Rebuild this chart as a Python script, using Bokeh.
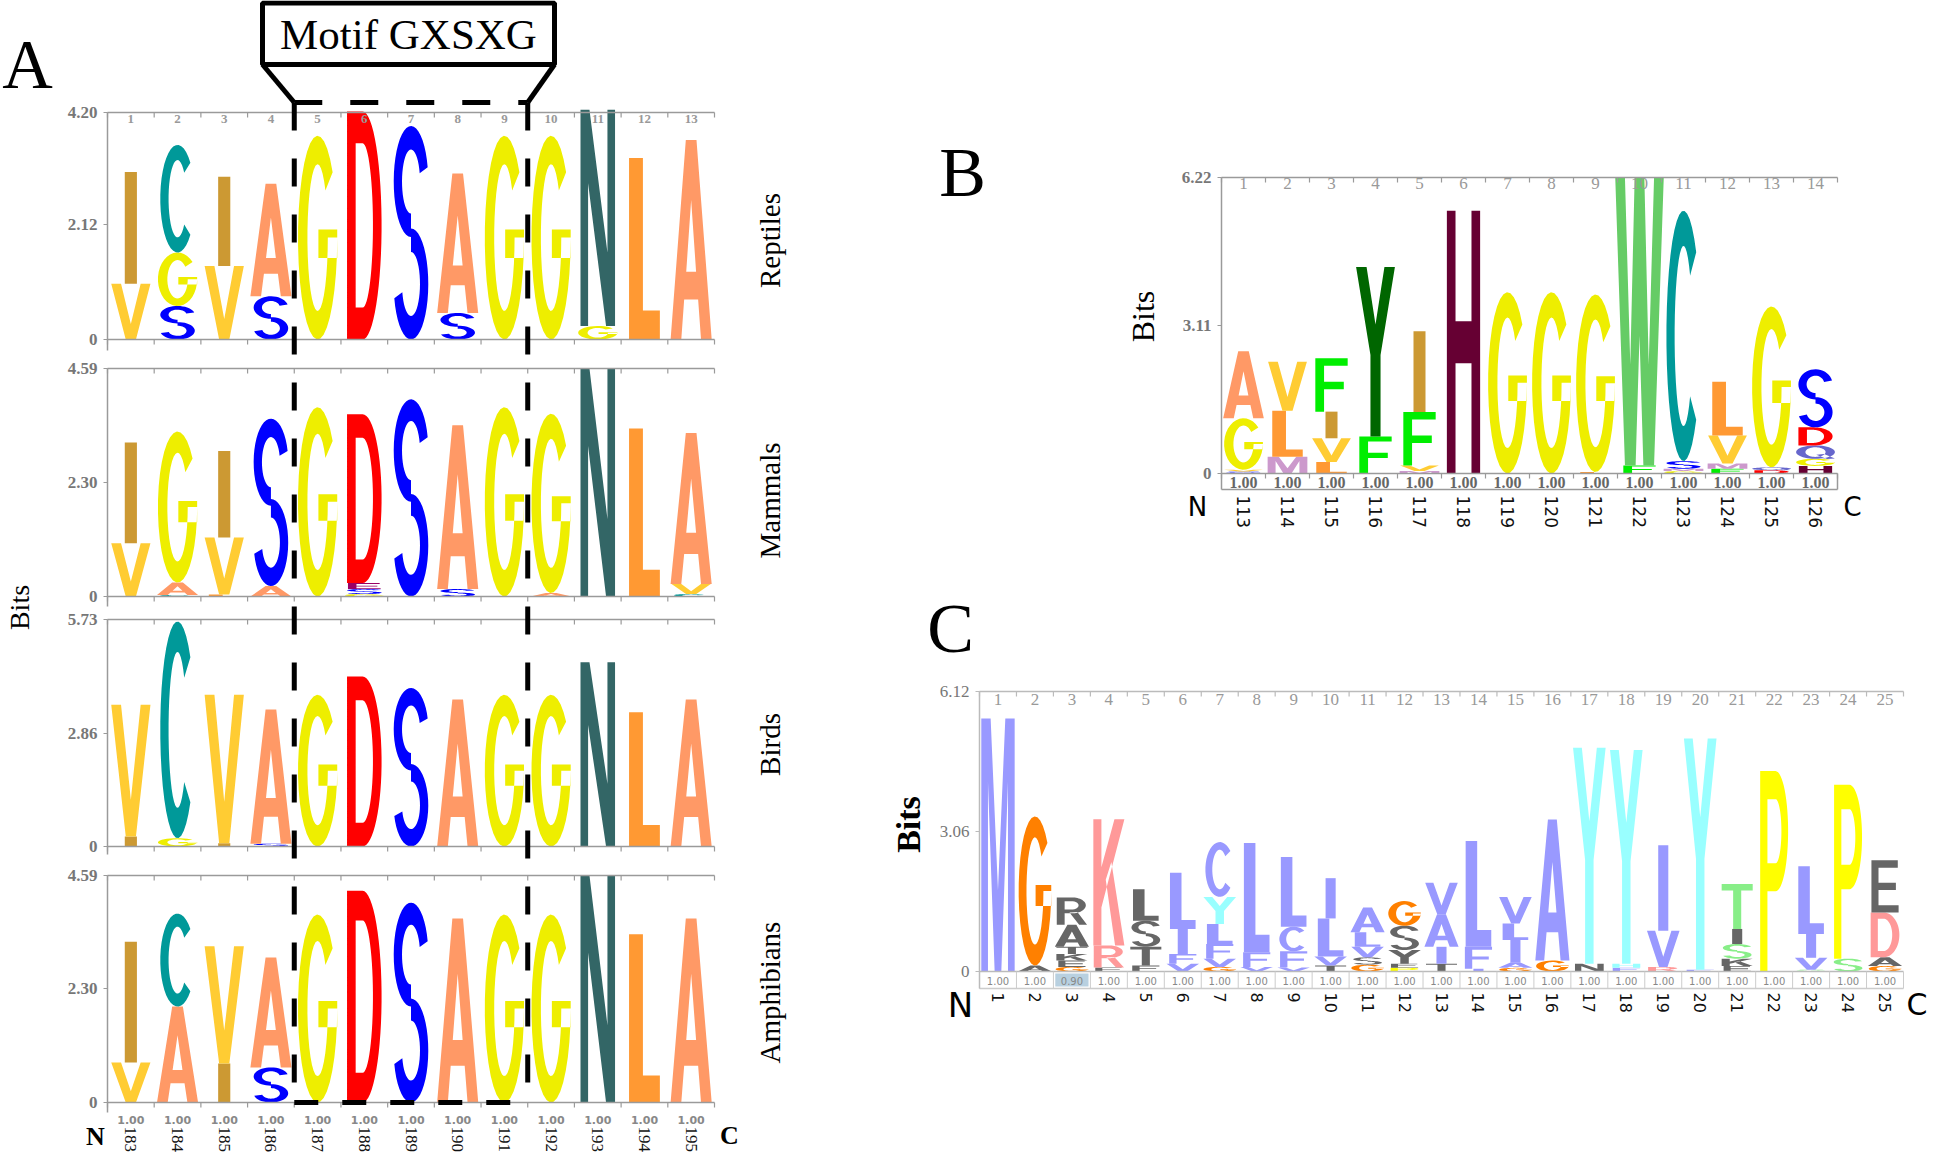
import numpy as np
from bokeh.plotting import figure
from bokeh.models import Range1d, LinearAxis, FixedTicker, NumeralTickFormatter, ColumnDataSource
from bokeh.core.properties import value
from bokeh.embed import file_html
from bokeh.resources import INLINE

# ============================ DATA ============================
# Panel A : four sequence logos, residues 183-195 (stacks listed bottom -> top)
a_residues = list(range(183, 196))
a_species = ["Reptiles", "Mammals", "Birds", "Amphibians"]
a_ymax = [4.20, 4.59, 5.73, 4.59]
a_ymid = [2.12, 2.30, 2.86, 2.30]
motif_cols = (5, 9)

reptiles_letters = ["VI", "SGC", "VI", "SA", "G", "D", "S", "SA", "G", "G", "GN", "L", "A"]
reptiles_heights = [[1.03, 2.07], [0.62, 0.99, 1.99], [1.36, 1.65], [0.80, 2.08], [3.77], [4.22],
                    [3.95], [0.49, 2.58], [3.77], [3.77], [0.25, 4.00], [3.36], [3.69]]

mammals_letters = ["VI", "CAG", "LVI", "AS", "G", "GSED", "S", "SA", "G", "AG", "N", "L", "CVA"]
mammals_heights = [[1.07, 2.03], [0.03, 0.25, 3.04], [0.04, 1.15, 1.74], [0.21, 3.37], [3.81],
                   [0.05, 0.10, 0.12, 3.40], [3.97], [0.15, 3.30], [3.81], [0.07, 3.61], [4.59],
                   [3.38], [0.05, 0.20, 3.04]]

birds_letters = ["IV", "GC", "IV", "SA", "G", "D", "S", "A", "G", "G", "N", "L", "A"]
birds_heights = [[0.25, 3.33], [0.21, 5.47], [0.08, 3.75], [0.07, 3.39], [3.83], [4.29], [4.00],
                 [3.71], [3.83], [3.83], [4.65], [3.39], [3.71]]

amphibians_letters = ["VI", "AC", "IV", "SA", "G", "D", "S", "A", "G", "G", "N", "L", "A"]
amphibians_heights = [[0.81, 2.44], [1.94, 1.88], [0.79, 2.37], [0.71, 2.22], [3.80], [4.28], [4.04],
                      [3.72], [3.80], [3.80], [4.59], [3.40], [3.72]]

# Panel B : residues 113-126
b_residues = list(range(113, 127))
b_ymax, b_ymid = 6.22, 3.11
b_letters = ["SVGA", "MLV", "LVIF", "FY", "MVFI", "H", "G", "G", "LG", "FW", "GMSC", "FMVL", "DQG", "HGQDS"]
b_heights = [[0.04, 0.04, 1.08, 1.41], [0.35, 0.97, 1.03], [0.24, 0.50, 0.56, 1.12], [0.78, 3.56],
             [0.05, 0.12, 1.12, 1.70], [5.52], [3.81], [3.81], [0.03, 3.73], [0.17, 6.05],
             [0.05, 0.05, 0.16, 5.26], [0.10, 0.11, 0.59, 1.13], [0.07, 0.06, 3.38],
             [0.16, 0.15, 0.28, 0.38, 1.22]]

# Panel C : positions 1-25
c_residues = list(range(1, 26))
c_ymax, c_ymid = 6.12, 3.06
c_occupancy = ["1.00", "1.00", "0.90"] + ["1.00"] * 22
c_letters = ["M", "AG", "GEKTAR", "ERK", "FTSL", "VFIL", "GVFLYC", "VFL", "VFCL", "TVLI", "GSVLA",
             "PEYSG", "TIAV", "IFL", "GAILV", "GA", "NY", "FHY", "RVI", "FY", "EKSIT", "P", "SVIL",
             "SP", "GADE"]
c_heights = [[5.53], [0.13, 3.26], [0.10, 0.14, 0.14, 0.16, 0.48, 0.60], [0.09, 0.48, 2.76],
             [0.13, 0.41, 0.57, 0.69], [0.17, 0.21, 0.55, 1.23], [0.10, 0.18, 0.32, 0.44, 0.59, 1.20],
             [0.10, 0.32, 2.39], [0.09, 0.35, 0.54, 1.52], [0.13, 0.20, 0.83, 0.88],
             [0.15, 0.16, 0.23, 0.32, 0.54], [0.08, 0.09, 0.30, 0.53, 0.54], [0.17, 0.37, 0.71, 0.69],
             [0.06, 0.48, 2.31], [0.08, 0.12, 0.49, 0.36, 0.58], [0.24, 3.08], [0.17, 4.72],
             [0.08, 0.09, 4.67], [0.10, 0.79, 1.87], [0.04, 5.05], [0.12, 0.16, 0.32, 0.33, 0.98],
             [4.38], [0.04, 0.26, 0.52, 1.48], [0.28, 3.80], [0.12, 0.19, 0.98, 1.14]]
c_gray = {2: "A", 3: "EKTAR", 4: "E", 5: "FTSL", 10: "T", 11: "S", 12: "EYS", 13: "T", 21: "EKI", 25: "A"}

# ============================ STYLE ============================
PAL_AB = {"A": "#FF9966", "C": "#009999", "D": "#FF0000", "E": "#990066", "F": "#00EE00",
          "G": "#EEEE00", "H": "#660033", "I": "#CC9933", "L": "#FF9933", "M": "#CC99CC",
          "N": "#336666", "Q": "#6666CC", "S": "#0000FF", "V": "#FFCC33", "W": "#66CC66",
          "Y": "#006600", "K": "#FF9999", "R": "#FF9999", "T": "#88EE88", "P": "#FFFF00"}
HYD = "#9999FF"
PAL_C = {"M": HYD, "L": HYD, "I": HYD, "V": HYD, "F": HYD, "C": HYD, "A": HYD, "W": HYD,
         "G": "#FF8000", "K": "#FF9999", "R": "#FF9999", "D": "#FF9999", "E": "#666666",
         "N": "#666666", "Q": "#666666", "S": "#88EE88", "T": "#88EE88", "Y": "#99FFFF",
         "H": "#99FFFF", "P": "#FFFF00"}
LW = {"A": 0.88, "C": 0.74, "D": 0.74, "E": 0.70, "F": 0.70, "G": 0.84, "H": 0.72, "I": 0.26,
      "K": 0.80, "L": 0.66, "M": 0.86, "N": 0.74, "P": 0.72, "Q": 0.84, "R": 0.78, "S": 0.74,
      "T": 0.80, "V": 0.84, "W": 1.05, "Y": 0.84}
SERIF = "Liberation Serif"
SANS = "DejaVu Sans"
AXG = "#9a9a9a"


# ---------------- letter outlines in a unit box ----------------
def arc(cx, cy, rx, ry, a0, a1, n=32):
    t = np.radians(np.linspace(a0, a1, n))
    return [(cx + rx * np.cos(a), cy + ry * np.sin(a)) for a in t]


def band(cx, cy, rxo, ryo, rxi, ryi, a0, a1):
    return arc(cx, cy, rxo, ryo, a0, a1) + arc(cx, cy, rxi, ryi, a1, a0)


SHAPES = {
    "A": [[[(0, 0), (0.26, 0), (0.33, 0.2), (0.67, 0.2), (0.74, 0), (1, 0), (0.63, 1), (0.37, 1)],
           [(0.38, 0.34), (0.62, 0.34), (0.5, 0.70)]]],
    "C": [[band(0.5, 0.5, 0.5, 0.5, 0.26, 0.36, 42, 318)]],
    "D": [[[(0, 0), (0, 1)] + arc(0.45, 0.5, 0.55, 0.5, 90, -90),
           [(0.25, 0.14), (0.25, 0.86)] + arc(0.45, 0.5, 0.30, 0.36, 90, -90)]],
    "E": [[[(0, 0), (1, 0), (1, 0.14), (0.26, 0.14), (0.26, 0.43), (0.9, 0.43), (0.9, 0.57),
            (0.26, 0.57), (0.26, 0.86), (0.97, 0.86), (0.97, 1), (0, 1)]]],
    "F": [[[(0, 0), (0.27, 0), (0.27, 0.42), (0.88, 0.42), (0.88, 0.56), (0.27, 0.56),
            (0.27, 0.86), (1, 0.86), (1, 1), (0, 1)]]],
    "G": [[band(0.5, 0.5, 0.5, 0.5, 0.26, 0.36, 40, 360)],
          [[(0.52, 0.40), (1.0, 0.40), (1.0, 0.54), (0.52, 0.54)]]],
    "H": [[[(0, 0), (0.26, 0), (0.26, 0.42), (0.74, 0.42), (0.74, 0), (1, 0), (1, 1), (0.74, 1),
            (0.74, 0.58), (0.26, 0.58), (0.26, 1), (0, 1)]]],
    "I": [[[(0, 0), (1, 0), (1, 1), (0, 1)]]],
    "K": [[[(0, 0), (0.26, 0), (0.26, 1), (0, 1)]],
          [[(0.26, 0.30), (1.0, 1.0), (0.68, 1.0), (0.26, 0.62)]],
          [[(0.40, 0.52), (0.70, 0), (1.0, 0), (0.58, 0.66)]]],
    "L": [[[(0, 0), (1, 0), (1, 0.16), (0.45, 0.16), (0.45, 1), (0, 1)]]],
    "M": [[[(0, 0), (0.2, 0), (0.2, 0.75), (0.4, 0), (0.6, 0), (0.8, 0.75), (0.8, 0), (1, 0),
            (1, 1), (0.72, 1), (0.5, 0.32), (0.28, 1), (0, 1)]]],
    "N": [[[(0, 0), (0.22, 0), (0.22, 0.66), (0.74, 0), (1, 0), (1, 1), (0.78, 1), (0.78, 0.34),
            (0.26, 1), (0, 1)]]],
    "P": [[[(0, 0), (0.26, 0), (0.26, 0.40), (0.55, 0.40)] + arc(0.55, 0.70, 0.45, 0.30, -90, 90) + [(0, 1)],
           [(0.26, 0.54)] + arc(0.55, 0.70, 0.21, 0.16, -90, 90) + [(0.26, 0.86)]]],
    "Q": [[arc(0.5, 0.5, 0.5, 0.5, 0, 360, 48), arc(0.5, 0.5, 0.26, 0.36, 0, 360, 48)],
          [[(0.52, 0.30), (0.72, 0.36), (1.0, 0.02), (0.80, -0.02)]]],
    "R": [[[(0, 0), (0.26, 0), (0.26, 0.42), (0.5, 0.42)] + arc(0.5, 0.71, 0.46, 0.29, -90, 90) + [(0, 1)],
           [(0.26, 0.56)] + arc(0.5, 0.71, 0.22, 0.15, -90, 90) + [(0.26, 0.86)]],
          [[(0.42, 0.45), (0.74, 0), (1.0, 0), (0.68, 0.47)]]],
    "S": [[band(0.5, 0.74, 0.5, 0.26, 0.26, 0.15, 15, 270)],
          [band(0.5, 0.26, 0.5, 0.26, 0.26, 0.15, 90, -165)]],
    "T": [[[(0.37, 0), (0.63, 0), (0.63, 0.86), (1, 0.86), (1, 1), (0, 1), (0, 0.86), (0.37, 0.86)]]],
    "V": [[[(0, 1), (0.37, 0), (0.63, 0), (1, 1), (0.75, 1), (0.5, 0.28), (0.25, 1)]]],
    "W": [[[(0, 1), (0.2, 0), (0.42, 0), (0.5, 0.45), (0.58, 0), (0.8, 0), (1, 1), (0.8, 1),
            (0.69, 0.35), (0.6, 1), (0.4, 1), (0.31, 0.35), (0.2, 1)]]],
    "Y": [[[(0, 1), (0.37, 0.48), (0.37, 0), (0.63, 0), (0.63, 0.48), (1, 1), (0.73, 1),
            (0.5, 0.66), (0.27, 1)]]],
}


def letter_source(letters, heights, palette, wscale=1.0, gray=None):
    xs, ys, cs = [], [], []
    for col, (lets, hs) in enumerate(zip(letters, heights), start=1):
        base = 0.0
        for ch, h in zip(lets, hs):
            w = LW[ch] * wscale
            gx, gy = [], []
            for poly in SHAPES[ch]:
                rx, ry = [], []
                for ring in poly:
                    u = np.array([q[0] for q in ring])
                    v = np.array([q[1] for q in ring])
                    rx.append((col + (u - 0.5) * w).tolist())
                    ry.append((base + v * h).tolist())
                gx.append(rx)
                gy.append(ry)
            xs.append(gx)
            ys.append(gy)
            c = palette[ch]
            if gray and ch in gray.get(col, ""):
                c = "#666666"
            cs.append(c)
            base += h
    return ColumnDataSource(dict(xs=xs, ys=ys, color=cs))


# ============================ FIGURE (one canvas, one range per logo) ============================
FX0, FX1, FY0, FY1 = 8, 1938, 8, 1161          # page pixels covered by the frame
p = figure(width=FX1 - FX0, height=FY1 - FY0, x_range=Range1d(FX0, FX1), y_range=Range1d(FY1, FY0),
           output_backend="svg", toolbar_location=None, title=None,
           x_axis_location=None, y_axis_location=None,
           min_border_left=0, min_border_right=0, min_border_top=0, min_border_bottom=0)
p.outline_line_color = None
p.grid.visible = False


def col_range(px_a, px_b, n):
    s = (px_b - px_a) / n
    return Range1d(0.5 - (px_a - FX0) / s, 0.5 + (FX1 - px_a) / s)


def bits_range(zero_px, top_px, ymax):
    ppb = (zero_px - top_px) / ymax
    return Range1d(-(FY1 - zero_px) / ppb, (zero_px - FY0) / ppb), ppb


def y_axis(xr, yr, ymid, ymax, bounds, style, line_color):
    ax = LinearAxis(x_range_name=xr, y_range_name=yr, fixed_location=0.5, bounds=bounds,
                    ticker=FixedTicker(ticks=[0, ymid, ymax], minor_ticks=[]),
                    formatter=NumeralTickFormatter(format="0.00"),
                    major_label_overrides={0: "0"})
    ax.axis_line_color = line_color
    ax.axis_line_width = 1.5
    ax.major_tick_line_color = line_color
    ax.major_tick_in = 0
    ax.major_tick_out = 4
    ax.minor_tick_line_color = None
    ax.major_label_standoff = 6
    ax.major_label_text_font = SERIF
    ax.major_label_text_font_size = "17px"
    ax.major_label_text_font_style = style
    ax.major_label_text_color = "#777777"
    p.add_layout(ax, "left")


def residue_axis(xr, yr, loc, n, labels, font, size, standoff, line_color):
    ticks = list(range(1, n + 1))
    ax = LinearAxis(x_range_name=xr, y_range_name=yr, fixed_location=loc, bounds=(0.5, n + 0.5),
                    ticker=FixedTicker(ticks=ticks, minor_ticks=[]),
                    major_label_overrides={t: l for t, l in zip(ticks, labels)})
    ax.axis_line_color = line_color
    ax.axis_line_width = 1.5
    ax.major_tick_line_color = None
    ax.major_tick_in = 0
    ax.major_tick_out = 0
    ax.minor_tick_line_color = None
    ax.major_label_standoff = standoff
    ax.major_label_text_font = font
    ax.major_label_text_font_size = size
    ax.major_label_text_color = "#111111"
    ax.major_label_orientation = "vertical"
    p.add_layout(ax, "below")


def txt(x, y, s, font=SERIF, size="17px", color="black", style="normal", angle=0.0,
        align="center", baseline="middle", **kw):
    p.text(x=x, y=y, text=s, angle=angle, text_font=value(font), text_font_size=size,
           text_color=color, text_font_style=style, text_align=align, text_baseline=baseline, **kw)


# ---------------- Panel A ----------------
A_X0, A_X1 = 115, 722
n_a = len(a_residues)
cols_a = list(range(1, n_a + 1))
bnd_a = [c - 0.5 for c in range(1, n_a + 2)]
p.extra_x_ranges["ax"] = col_range(A_X0, A_X1, n_a)
a_letters = [reptiles_letters, mammals_letters, birds_letters, amphibians_letters]
a_heights = [reptiles_heights, mammals_heights, birds_heights, amphibians_heights]
a_top_px = [120, 376, 627, 883]
a_zero_px = [347, 604, 854, 1110]
m0, m1 = motif_cols[0] - 0.5, motif_cols[1] + 0.5


def apx(c):
    return A_X0 + (c - 0.5) * (A_X1 - A_X0) / n_a


for i in range(4):
    name = "a%d" % i
    ymax = a_ymax[i]
    rng, ppb = bits_range(a_zero_px[i], a_top_px[i], ymax)
    p.extra_y_ranges[name] = rng
    kw = dict(x_range_name="ax", y_range_name=name)
    p.multi_polygons(xs="xs", ys="ys", fill_color="color", line_color=None,
                     source=letter_source(a_letters[i], a_heights[i], PAL_AB, 1.0), **kw)
    p.segment(x0=[0.5, 0.5], y0=[0, ymax], x1=[n_a + 0.5, n_a + 0.5], y1=[0, ymax],
              line_color=AXG, line_width=1.5, **kw)
    p.segment(x0=bnd_a, y0=[0] * len(bnd_a), x1=bnd_a, y1=[-5 / ppb] * len(bnd_a),
              line_color=AXG, line_width=1.2, **kw)
    p.segment(x0=bnd_a, y0=[ymax] * len(bnd_a), x1=bnd_a, y1=[ymax - 5 / ppb] * len(bnd_a),
              line_color=AXG, line_width=1.2, **kw)
    y_axis("ax", name, a_ymid[i], ymax, (-0.2, ymax), "bold", AXG)
    if i == 0:
        txt(cols_a, [ymax] * n_a, [str(c) for c in cols_a], size="13px", color="#999999",
            style="bold", y_offset=6, **kw)
    if i == 3:
        p.segment(x0=[m0], y0=[0], x1=[m1], y1=[0], line_color="black", line_width=5,
                  line_dash="24 24", **kw)
        txt(cols_a, [0] * n_a, ["1.00"] * n_a, font=SANS, size="11px", color="#888888",
            style="bold", y_offset=17, **kw)
        residue_axis("ax", name, -22 / ppb, n_a, [str(r) for r in a_residues], SERIF, "17px", 2, None)

# motif box and dashed outline (page pixels on the main ranges)
p.segment(x0=[m0, m1], y0=[110, 110], x1=[m0, m1], y1=[1110, 1110], x_range_name="ax",
          line_color="black", line_width=5, line_dash="28 28")
p.segment(x0=[apx(m0)], y0=[110], x1=[apx(m1)], y1=[110], line_color="black", line_width=5,
          line_dash="28 28")
p.segment(x0=[270, 562], y0=[72, 72], x1=[apx(m0), apx(m1)], y1=[110, 110], line_color="black",
          line_width=5)
p.quad(left=[270], right=[562], top=[10.5], bottom=[72], fill_color="white", line_color="black",
       line_width=5)
txt([416], [42], ["Motif GXSXG"], size="43px")
txt([35], [72], ["A"], size="70px", baseline="alphabetic")
txt([27], [615], ["Bits"], size="28px", angle=np.pi / 2)
txt([777] * 4, [248, 508, 752, 1000], a_species, size="29px", angle=np.pi / 2)
txt([103], [1144], ["N"], size="26px", style="bold")
txt([737], [1143], ["C"], size="26px", style="bold")

# ---------------- Panel B ----------------
n_b = len(b_residues)
cols_b = list(range(1, n_b + 1))
bnd_b = [c - 0.5 for c in range(1, n_b + 2)]
p.extra_x_ranges["bx"] = col_range(1229, 1845, n_b)
rng_b, ppb_b = bits_range(481, 185, b_ymax)
p.extra_y_ranges["by"] = rng_b
kb = dict(x_range_name="bx", y_range_name="by")
row_b = -16 / ppb_b
p.multi_polygons(xs="xs", ys="ys", fill_color="color", line_color=None,
                 source=letter_source(b_letters, b_heights, PAL_AB, 1.05), **kb)
p.segment(x0=[0.5, 0.5], y0=[0, b_ymax], x1=[n_b + 0.5, n_b + 0.5], y1=[0, b_ymax],
          line_color=AXG, line_width=1.5, **kb)
p.segment(x0=[n_b + 0.5], y0=[0], x1=[n_b + 0.5], y1=[row_b], line_color=AXG, line_width=1.5, **kb)
p.segment(x0=bnd_b, y0=[b_ymax] * len(bnd_b), x1=bnd_b, y1=[b_ymax - 5 / ppb_b] * len(bnd_b),
          line_color=AXG, line_width=1.2, **kb)
p.segment(x0=bnd_b, y0=[0] * len(bnd_b), x1=bnd_b, y1=[-5 / ppb_b] * len(bnd_b),
          line_color=AXG, line_width=1.2, **kb)
txt(cols_b, [b_ymax] * n_b, [str(c) for c in cols_b], size="17px", color="#999999", y_offset=6, **kb)
txt(cols_b, [0] * n_b, ["1.00"] * n_b, size="16px", color="#666666", style="bold", y_offset=9, **kb)
y_axis("bx", "by", b_ymid, b_ymax, (row_b, b_ymax), "bold", AXG)
residue_axis("bx", "by", row_b, n_b, [str(r) for r in b_residues], SANS, "17px", 6, AXG)
txt([970], [180], ["B"], size="70px", baseline="alphabetic")
txt([1150], [324], ["Bits"], size="32px", angle=np.pi / 2)
txt([1205], [514], ["N"], font=SANS, size="26px")
txt([1860], [514], ["C"], font=SANS, size="26px")

# ---------------- Panel C ----------------
n_c = len(c_residues)
cols_c = list(range(1, n_c + 1))
bnd_c = [c - 0.5 for c in range(1, n_c + 2)]
p.extra_x_ranges["cx"] = col_range(987, 1911, n_c)
rng_c, ppb_c = bits_range(979, 699, c_ymax)
p.extra_y_ranges["cy"] = rng_c
kc = dict(x_range_name="cx", y_range_name="cy")
row_c = -17 / ppb_c
hl = [c for c, o in zip(cols_c, c_occupancy) if o != "1.00"]
p.quad(left=[c - 0.45 for c in hl], right=[c + 0.45 for c in hl], top=[-2 / ppb_c] * len(hl),
       bottom=[-15 / ppb_c] * len(hl), fill_color="#B8D0E0", line_color=None, **kc)
p.multi_polygons(xs="xs", ys="ys", fill_color="color", line_color=None,
                 source=letter_source(c_letters, c_heights, PAL_C, 1.05, gray=c_gray), **kc)
p.segment(x0=[0.5, 0.5], y0=[0, c_ymax], x1=[n_c + 0.5, n_c + 0.5], y1=[0, c_ymax],
          line_color="#bbbbbb", line_width=1.5, **kc)
p.segment(x0=bnd_c, y0=[0] * len(bnd_c), x1=bnd_c, y1=[row_c] * len(bnd_c),
          line_color="#cccccc", line_width=1, **kc)
p.segment(x0=bnd_c, y0=[c_ymax] * len(bnd_c), x1=bnd_c, y1=[c_ymax - 5 / ppb_c] * len(bnd_c),
          line_color="#bbbbbb", line_width=1.2, **kc)
txt(cols_c, [c_ymax] * n_c, [str(c) for c in cols_c], size="17px", color="#999999", y_offset=8, **kc)
txt(cols_c, [0] * n_c, c_occupancy, font=SANS, size="10px", color="#888888", y_offset=9, **kc)
y_axis("cx", "cy", c_ymid, c_ymax, (row_c, c_ymax), "normal", "#bbbbbb")
residue_axis("cx", "cy", row_c, n_c, [str(r) for r in c_residues], SANS, "16px", 4, "#cccccc")
txt([958], [636], ["C"], size="70px", baseline="alphabetic")
txt([916], [832], ["Bits"], size="34px", style="bold", angle=np.pi / 2)
txt([968], [1012], ["N"], font=SANS, size="34px")
txt([1914], [1012], ["C"], font=SANS, size="30px", align="left")

open("out.html", "w").write(file_html(p, INLINE))
